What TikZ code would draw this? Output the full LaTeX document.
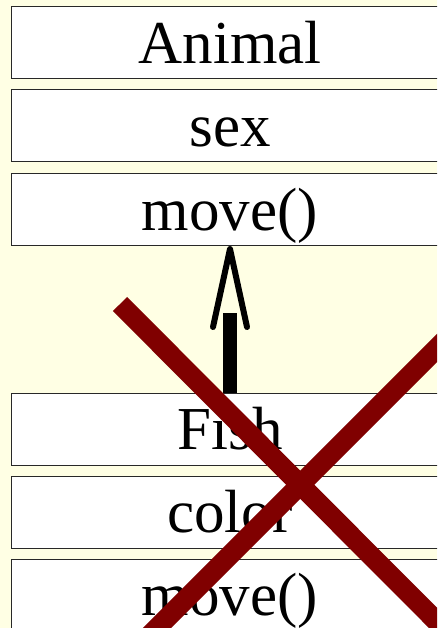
\documentclass[tikz,border=0pt]{standalone}
\usepackage{fontspec}
\setmainfont{Liberation Serif}
\usetikzlibrary{calc}
\definecolor{paper}{RGB}{255,255,228}
\definecolor{boxline}{RGB}{40,40,40}
\definecolor{crossred}{RGB}{128,0,0}
\begin{document}
\begin{tikzpicture}[x=1pt,y=-1pt,
  classbox/.style={draw=boxline, line width=1pt, fill=white,
    minimum width=438pt, minimum height=72pt, inner sep=0pt,
    text height=50pt, text depth=9pt,
    font=\fontsize{61pt}{61pt}\selectfont},
  shaft/.style={line width=14pt},
  barb/.style={line width=6pt, line cap=round, line join=round},
  cross/.style={crossred, line width=20pt}]
  % canvas
  \useasboundingbox (0,0) rectangle (437,628);
  \clip (0,0) rectangle (437,628);
  \fill[paper] (0,0) rectangle (437,628);

  % base class
  \node[classbox] (animal) at (230,43)    {Animal};
  \node[classbox] (sex)    at (230,126)   {sex};
  \node[classbox] (amove)  at (230,209.5) {move()};

  % derived class
  \node[classbox] (fish)   at (230,429) {Fish};
  \node[classbox] (color)  at (230,512) {color};
  \node[classbox] (fmove)  at (230,595) {move()};

  % inheritance arrow: thick shaft, open barb head
  \draw[shaft] (fish.north) -- ++(0,-80);
  \coordinate (tip) at ($(amove.south)+(0,3)$);
  \draw[barb] ($(tip)+(-17,78)$) -- (tip) -- ($(tip)+(17,78)$);

  % struck out
  \coordinate (xc) at (300,485);
  \draw[cross] (120,304) -- ($(xc)+(180,180)$);
  \draw[cross] ($(xc)+(180,-180)$) -- ($(xc)+(-180,180)$);
\end{tikzpicture}
\end{document}
